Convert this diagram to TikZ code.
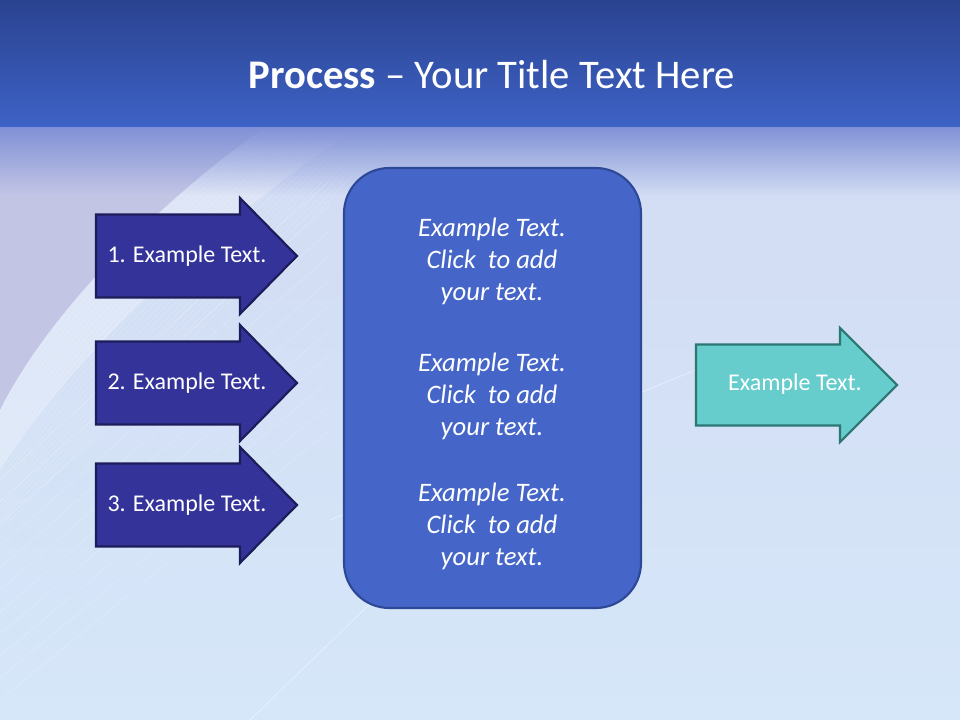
\documentclass[tikz,border=0pt]{standalone}
\usepackage{fontspec}
\setmainfont{Carlito}
\usetikzlibrary{fadings}
\definecolor{bandtop}{HTML}{2A4390}
\definecolor{bandbot}{HTML}{3E62C6}
\definecolor{bgA}{HTML}{D2DBF3}
\definecolor{bgB}{HTML}{E5F1FB}
\definecolor{bgC}{HTML}{D6E7F9}
\definecolor{lav}{HTML}{C3C5E5}
\definecolor{fadeblue}{HTML}{7F90D6}
\definecolor{navyfill}{HTML}{333399}
\definecolor{navyline}{HTML}{1C1C5A}
\definecolor{boxfill}{HTML}{4566C8}
\definecolor{boxline}{HTML}{2D4896}
\definecolor{tealfill}{HTML}{66CCCC}
\definecolor{tealline}{HTML}{2C7673}
\tikzfading[name=fadedown, top color=transparent!0, bottom color=transparent!100]
\tikzset{
  navyarrow/.style={fill=navyfill, draw=navyline, line width=1.6pt, line join=miter},
  tealarrow/.style={fill=tealfill, draw=tealline, line width=1.6pt, line join=miter},
  arrtext/.style={text=white, font=\fontsize{18}{21}\selectfont, inner sep=0pt},
  boxtext/.style={text=white, font=\fontsize{20}{24}\selectfont\itshape, align=center, inner sep=0pt},
  bigbox/.style={fill=boxfill, draw=boxline, line width=1.6pt, rounded corners=34pt},
  titletext/.style={text=white, font=\fontsize{30.5}{34}\selectfont, inner sep=0pt}
}
\begin{document}
\begin{tikzpicture}[x=0.75pt, y=-0.75pt]
\useasboundingbox (0,0) rectangle (960,720);
% background
\shade[top color=bgA, middle color=bgB, bottom color=bgC] (0,126) rectangle (960,720);
\fill[lav] (0,126) -- (268,126) .. controls (200,170) and (60,290) .. (0,410) -- cycle;
\fill[white, opacity=0.25] (268,126) .. controls (200,170) and (60,290) .. (0,410) -- (0,470)
   .. controls (90,330) and (260,190) .. (360,126) -- cycle;
\foreach \i in {0,...,24}{
  \draw[white, opacity=0.22, line width=0.4pt]
    (270+\i*5,126) .. controls (205+\i*6,170+\i) and (62+\i*5,292+\i*2) .. (0,412+\i*5);
}
\foreach \i in {0,...,10}{
  \draw[white, opacity=0.25, line width=0.4pt] (0,700-\i*22) -- (330,430-\i*25);
}
\draw[white, opacity=0.5, line width=0.5pt] (250,720) -- (560,420);
\draw[white, opacity=0.5, line width=0.5pt] (330,520) -- (720,360);
\fill[fadeblue, path fading=fadedown] (0,126) rectangle (960,195);
\shade[top color=bandtop, bottom color=bandbot] (0,0) rectangle (960,127);
% title
\node[titletext] (title) at (492,75) {\textbf{Process} -- Your Title Text Here};
% left arrows
\foreach \c/\n in {256/1,383/2,505/3}{
  \draw[navyarrow] (96,\c-41.5) -- (240,\c-41.5) -- (240,\c-58) -- (297,\c) -- (240,\c+58)
     -- (240,\c+41.5) -- (96,\c+41.5) -- cycle;
}
\node[arrtext] (a1) at (187,256) {1. Example Text.};
\node[arrtext] (a2) at (187,383) {2. Example Text.};
\node[arrtext] (a3) at (187,505) {3. Example Text.};
% center box
\draw[bigbox] (344,168) rectangle (641,608);
\node[boxtext] (t1) at (492,261) {Example Text.\\Click\ \ to add\\your text.};
\node[boxtext] (t2) at (492,396) {Example Text.\\Click\ \ to add\\your text.};
\node[boxtext] (t3) at (492,526) {Example Text.\\Click\ \ to add\\your text.};
% right arrow
\draw[tealarrow] (696,344.5) -- (840,344.5) -- (840,328) -- (897,385) -- (840,442)
   -- (840,425.5) -- (696,425.5) -- cycle;
\node[arrtext] (r1) at (795,384) {Example Text.};
\end{tikzpicture}
\end{document}
